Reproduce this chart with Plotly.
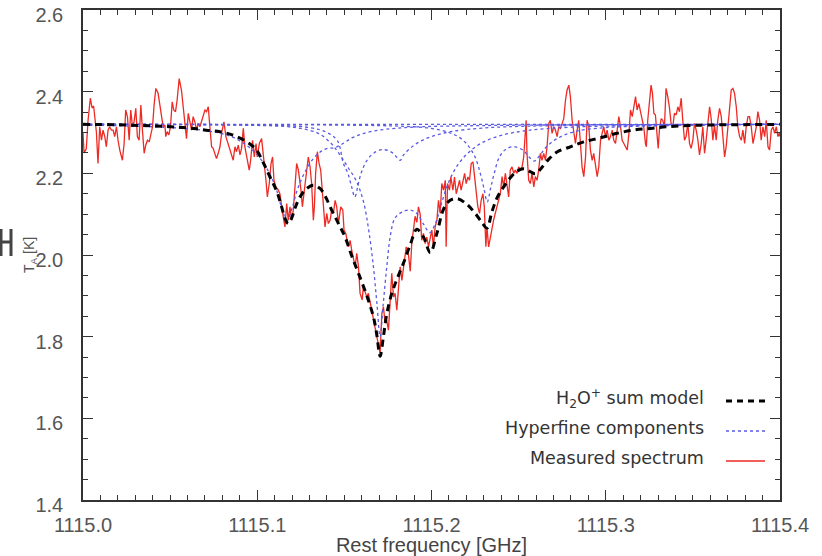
import plotly.graph_objects as go

# ---------------- data (frequency offsets in MHz above 1115 GHz, T_A in K) ----
base_ghz = 1115.0

meas_mhz = [0.0,0.6,1.9,2.9,4.2,5.2,6.1,7.7,8.6,9.6,10.6,11.5,12.5,13.4,14.4,15.3,16.3,17.3,18.2,19.2,
 20.1,21.1,22.6,23.6,24.5,25.5,26.5,27.4,28.4,29.3,30.3,31.2,32.2,33.2,34.1,35.1,36.0,37.0,38.0,38.9,
 39.9,40.8,41.8,43.1,44.1,45.0,46.0,47.0,47.5,48.3,49.3,50.2,51.2,52.1,53.1,54.0,55.2,56.5,57.5,58.4,
 59.4,60.4,61.3,62.3,63.2,64.2,65.2,66.1,67.1,68.6,70.0,70.9,71.9,72.8,73.8,74.7,75.7,76.6,77.6,78.6,
 79.7,80.9,82.0,83.3,84.7,86.2,87.2,88.1,89.1,90.1,91.0,92.0,92.9,94.3,95.4,96.2,97.3,98.3,99.3,100.0,
 101.2,102.5,103.5,105.0,105.8,106.9,107.9,108.8,109.6,110.7,112.1,113.0,114.6,115.9,116.9,117.8,118.8,119.7,120.7,121.7,
 122.6,123.6,124.5,125.1,125.9,126.8,128.0,129.3,130.3,131.2,132.2,132.8,133.5,134.5,135.5,136.4,137.6,138.9,139.9,140.8,
 141.8,142.7,143.7,144.7,145.6,146.6,147.9,149.1,149.8,150.8,152.3,153.3,154.2,155.2,156.2,157.1,158.1,159.0,160.2,160.9,
 162.9,163.8,165.7,166.7,168.6,169.6,170.5,171.5,172.4,173.4,174.3,175.3,176.3,177.2,178.2,179.1,180.1,181.1,182.0,183.0,
 184.3,185.5,186.8,187.8,188.7,189.7,190.6,191.6,192.5,193.5,194.4,195.4,196.4,197.3,198.3,199.2,200.2,201.1,202.1,203.1,
 204.0,205.0,205.9,206.9,207.9,208.4,209.2,210.3,211.1,212.3,213.2,214.2,215.1,216.1,217.0,218.0,219.0,219.9,220.9,221.8,
 222.8,223.8,224.7,225.7,226.6,227.6,228.5,229.5,230.3,231.2,231.8,232.8,233.7,234.7,235.6,236.6,237.5,238.5,239.5,240.5,
 241.4,242.4,243.3,244.3,245.2,246.2,247.2,248.1,249.1,250.0,251.0,252.0,252.9,253.5,254.3,254.8,255.8,256.7,257.7,258.7,
 259.6,260.6,261.5,262.5,263.4,264.4,265.4,266.3,267.3,268.2,269.2,270.2,271.1,272.1,273.0,274.0,274.9,275.9,276.9,277.8,
 278.8,279.7,280.7,281.6,282.6,283.6,284.5,285.5,286.4,287.4,288.4,289.3,290.3,291.2,292.2,293.1,294.1,295.1,296.0,297.0,
 297.9,298.9,299.8,300.8,301.8,302.7,303.7,304.6,305.6,306.5,307.5,308.5,309.4,310.4,311.3,312.3,313.3,314.2,315.2,316.1,
 317.1,318.0,319.0,320.0,320.9,321.8,322.8,323.3,324.1,325.3,326.0,326.8,327.6,328.5,329.5,330.1,330.8,331.8,332.7,333.7,
 334.6,335.6,336.6,337.5,338.5,339.4,340.4,341.4,342.3,343.3,344.2,345.2,346.1,347.1,348.1,349.0,350.0,350.9,351.9,352.9,
 353.8,354.8,355.7,356.7,357.6,358.6,359.6,360.5,361.5,362.4,363.4,364.3,365.3,366.3,367.2,368.2,369.1,370.1,371.0,372.0,
 373.0,373.9,374.9,375.8,376.8,377.8,378.7,379.7,380.6,381.6,382.5,383.5,384.5,385.4,386.4,387.3,388.3,389.2,390.2,391.2,
 392.1,393.1,394.0,395.0,396.0,396.9,397.9,398.8,399.8,400.0]
meas_t = [2.30,2.25,2.26,2.33,2.384,2.36,2.365,2.30,2.224,2.314,2.281,2.306,2.29,2.265,2.306,2.314,2.306,2.306,2.29,2.314,
 2.281,2.257,2.232,2.273,2.355,2.339,2.281,2.355,2.314,2.326,2.359,2.29,2.281,2.367,2.306,2.249,2.269,2.281,2.277,2.298,
 2.314,2.367,2.408,2.396,2.371,2.339,2.314,2.318,2.29,2.302,2.294,2.314,2.375,2.355,2.351,2.379,2.432,2.404,2.363,2.314,
 2.285,2.347,2.322,2.306,2.339,2.326,2.306,2.322,2.314,2.334,2.355,2.351,2.363,2.314,2.265,2.261,2.245,2.236,2.249,2.265,
 2.302,2.326,2.29,2.27,2.255,2.232,2.265,2.253,2.269,2.245,2.261,2.31,2.265,2.228,2.208,2.232,2.281,2.24,2.273,2.24,
 2.273,2.285,2.249,2.183,2.142,2.175,2.224,2.24,2.183,2.167,2.159,2.15,2.102,2.069,2.126,2.085,2.118,2.085,2.11,2.183,
 2.224,2.208,2.183,2.159,2.118,2.15,2.2,2.24,2.216,2.175,2.085,2.118,2.2,2.253,2.224,2.208,2.142,2.069,2.102,2.077,
 2.085,2.11,2.102,2.134,2.118,2.077,2.118,2.11,2.061,2.053,2.02,2.036,2.012,1.987,1.971,2.004,1.971,1.906,1.89,1.922,
 1.897,1.906,1.865,1.84,1.808,1.784,1.759,1.857,1.873,1.833,1.84,1.816,1.906,1.955,1.897,1.906,1.865,1.914,1.971,1.938,
 1.987,2.02,2.0,1.96,2.03,2.06,2.095,2.08,2.118,2.1,2.036,2.053,2.028,2.044,2.02,2.04,2.061,2.02,2.069,2.085,
 2.134,2.102,2.175,2.159,2.183,2.02,2.175,2.159,2.191,2.159,2.191,2.15,2.167,2.183,2.159,2.183,2.2,2.175,2.191,2.183,
 2.224,2.228,2.191,2.159,2.118,2.102,2.134,2.15,2.118,2.02,2.069,2.02,2.044,2.069,2.085,2.102,2.118,2.134,2.151,2.192,
 2.167,2.2,2.167,2.142,2.208,2.216,2.2,2.208,2.2,2.216,2.208,2.216,2.24,2.273,2.33,2.249,2.183,2.175,2.2,2.167,
 2.192,2.183,2.208,2.249,2.232,2.249,2.232,2.265,2.322,2.33,2.298,2.314,2.306,2.29,2.314,2.31,2.322,2.334,2.379,2.404,
 2.416,2.388,2.33,2.298,2.273,2.306,2.33,2.273,2.216,2.192,2.24,2.33,2.314,2.257,2.232,2.249,2.216,2.192,2.216,2.281,
 2.298,2.314,2.29,2.306,2.281,2.29,2.306,2.281,2.273,2.306,2.339,2.314,2.281,2.273,2.265,2.257,2.298,2.355,2.339,2.363,
 2.388,2.355,2.371,2.35,2.33,2.314,2.273,2.265,2.33,2.388,2.416,2.396,2.347,2.343,2.298,2.261,2.306,2.334,2.33,2.314,
 2.408,2.388,2.359,2.322,2.314,2.347,2.343,2.363,2.351,2.384,2.33,2.281,2.29,2.322,2.273,2.261,2.281,2.322,2.306,2.281,
 2.245,2.273,2.314,2.249,2.281,2.322,2.363,2.334,2.281,2.318,2.281,2.33,2.359,2.339,2.298,2.24,2.265,2.314,2.355,2.404,
 2.408,2.396,2.363,2.314,2.29,2.281,2.306,2.273,2.314,2.339,2.339,2.314,2.273,2.29,2.314,2.351,2.33,2.281,2.314,2.29,
 2.33,2.265,2.257,2.306,2.314,2.298,2.314,2.29,2.30,2.29]

model_mhz = [0,20,40,55,65,72,78.6,84.3,90.1,95.8,99.6,103.5,107.3,111.1,114,115.9,117.8,119.7,121.7,124.5,
 128.4,132.2,136,138.9,142.7,146.6,150.4,154.2,158.1,162.9,166.7,168.6,170.5,172.4,174.3,177.2,180.1,183.9,187.8,191.6,
 195.4,199.3,203.1,206.9,210.7,215,220.3,225.1,228.9,231.8,234.7,237.6,241.4,245.2,249,252.9,256.7,259.6,262.5,266.3,
 272,279.7,287.4,297,306.5,316.1,325.7,335.3,354.4,373.6,400]
model_t = [2.32,2.319,2.316,2.313,2.309,2.305,2.302,2.296,2.286,2.272,2.257,2.226,2.191,2.157,2.118,2.09,2.077,2.09,2.115,2.142,
 2.163,2.171,2.163,2.145,2.11,2.077,2.044,1.998,1.955,1.9,1.848,1.805,1.752,1.8,1.855,1.906,1.94,1.98,2.025,2.063,
 2.044,2.006,2.053,2.112,2.134,2.138,2.124,2.102,2.08,2.066,2.106,2.14,2.167,2.189,2.205,2.211,2.204,2.199,2.21,2.23,
 2.252,2.265,2.277,2.287,2.298,2.306,2.31,2.314,2.318,2.319,2.32]

# hyperfine components (each read as a separate dotted curve)
hf1_mhz = [0,40,70,85,95,102,107,111,114,117,120,123,127,132,137,141,144,148,155,165,185,230,400]
hf1_t = [2.318,2.314,2.305,2.29,2.265,2.235,2.2,2.16,2.115,2.085,2.115,2.16,2.2,2.235,2.255,2.262,2.262,2.27,2.288,2.302,2.312,2.317,2.32]

hf2_mhz = [0,100,130,140,146,149.4,152,154,156,158,160,163,167,172,177,180,182,184,188,193,200,211,230,260,400]
hf2_t = [2.32,2.318,2.312,2.3,2.28,2.225,2.2,2.17,2.142,2.175,2.205,2.232,2.25,2.258,2.252,2.24,2.232,2.245,2.262,2.277,2.29,2.302,2.311,2.316,2.32]

hf3_mhz = [0,90,115,125,135,142,147.5,152,157,161,164,166.7,168.7,170.5,172.3,174.3,176.5,179,183,188,192,195.5,199,
 202.5,206,210,215,221,229,240,255,280,320,400]
hf3_t = [2.32,2.318,2.315,2.31,2.298,2.275,2.245,2.215,2.18,2.13,2.06,1.97,1.88,1.80,1.88,1.97,2.05,2.09,2.105,2.11,2.1,2.075,2.055,
 2.08,2.13,2.18,2.22,2.25,2.275,2.293,2.305,2.313,2.317,2.32]

hf4_mhz = [0,150,185,200,210,216,221,225,228,230,232,234,236,239,243,248,253,256,259,262,266,272,282,300,340,400]
hf4_t = [2.32,2.318,2.315,2.31,2.3,2.288,2.268,2.24,2.2,2.165,2.13,2.165,2.2,2.24,2.26,2.265,2.255,2.24,2.23,2.243,2.265,2.285,2.302,2.312,2.317,2.32]

baseline_t = 2.32
legend_labels = ["H<sub>2</sub>O<sup>+</sup> sum model", "Hyperfine components", "Measured spectrum"]

# ---------------- figure -----------------------------------------------------
def ghz(mhz_list):
    return [base_ghz + m / 1000.0 for m in mhz_list]

RED = "#ee2a24"
BLUE = "#5a5ae6"
fig = go.Figure()
fig.add_trace(go.Scatter(x=ghz(meas_mhz), y=meas_t, mode="lines",
                         line=dict(color=RED, width=1.3), showlegend=False))
fig.add_trace(go.Scatter(x=[base_ghz, base_ghz + 0.4], y=[baseline_t, baseline_t], mode="lines",
                         line=dict(color=BLUE, width=1.3, dash="dot"), showlegend=False))
for fm, tt in [(hf1_mhz, hf1_t), (hf2_mhz, hf2_t), (hf3_mhz, hf3_t), (hf4_mhz, hf4_t)]:
    fig.add_trace(go.Scatter(x=ghz(fm), y=tt, mode="lines", line_shape="spline",
                             line=dict(color=BLUE, width=1.3, dash="dot"), showlegend=False))
fig.add_trace(go.Scatter(x=ghz(model_mhz), y=model_t, mode="lines", line_shape="spline",
                         line=dict(color="black", width=3, dash="7px,5px"), showlegend=False))

W, H = 822, 556
# plot area in page pixels
SX0, SX1, SY0, SY1 = 83, 780, 10, 500
L, R, T, B = SX0, W - SX1, SY0, H - SY1
pw, ph = W - L - R, H - T - B

def px(x):
    return (x - L) / pw

def py(y):
    return (H - B - y) / ph

FONT = "Liberation Sans, Arial, sans-serif"
AX = dict(showline=True, linecolor="#333", linewidth=1.6, mirror="ticks",
          ticks="inside", ticklen=10, tickwidth=1.3, tickcolor="#333",
          showgrid=False, zeroline=False, automargin=False, ticklabeloverflow="allow",
          tickfont=dict(family=FONT, size=20, color="#555"))
fig.update_xaxes(range=[1115.0, 1115.4], dtick=0.1, tick0=1115.0, tickformat=".1f",
                 ticklabelstandoff=6,
                 minor=dict(dtick=0.01, ticklen=5, tickwidth=1.1, tickcolor="#333", ticks="inside"),
                 title=dict(text="Rest frequency [GHz]", standoff=4,
                            font=dict(family=FONT, size=20, color="#444")),
                 **AX)
fig.update_yaxes(range=[1.4, 2.6], dtick=0.2, tick0=1.4, tickformat=".1f",
                 ticklabelstandoff=14, ticklabelshift=5,
                 minor=dict(dtick=0.05, ticklen=5, tickwidth=1.1, tickcolor="#333", ticks="inside"),
                 **AX)

# y-axis title
fig.add_annotation(xref="paper", yref="paper", x=px(30), y=py(255), text="T<sub>A</sub> [K]",
                   textangle=-90, showarrow=False, xanchor="center", yanchor="middle",
                   font=dict(family=FONT, size=14, color="#555"))

# legend drawn as text + sample lines
rows = [398, 428, 458]
styles = [dict(color="black", width=3, dash="6px,5px"),
          dict(color=BLUE, width=1.3, dash="dot"),
          dict(color=RED, width=1.3)]
for lab, yy, st in zip(legend_labels, rows, styles):
    fig.add_annotation(xref="paper", yref="paper", x=px(706), y=py(yy), text=lab, showarrow=False,
                       xanchor="right", yanchor="middle",
                       font=dict(family="DejaVu Sans, sans-serif", size=17.5, color="#333"))
    fig.add_shape(type="line", xref="paper", yref="paper", x0=px(726), x1=px(765),
                  y0=py(yy + 3), y1=py(yy + 3), line=st)

# small stray glyph at the left edge of the original figure
mark = dict(color="#444", width=3)
fig.add_shape(type="line", xref="paper", yref="paper", x0=px(1), x1=px(11), y0=py(242), y1=py(242), line=mark)
fig.add_shape(type="line", xref="paper", yref="paper", x0=px(11), x1=px(11), y0=py(229), y1=py(256), line=mark)
fig.add_shape(type="line", xref="paper", yref="paper", x0=px(1), x1=px(1), y0=py(229), y1=py(256), line=mark)

fig.update_layout(width=W, height=H, margin=dict(l=L, r=R, t=T, b=B, autoexpand=False),
                  paper_bgcolor="white", plot_bgcolor="white", showlegend=False)
fig.write_html("out.html", config={"displayModeBar": False},
               post_script="document.body.style.margin='0px';")
